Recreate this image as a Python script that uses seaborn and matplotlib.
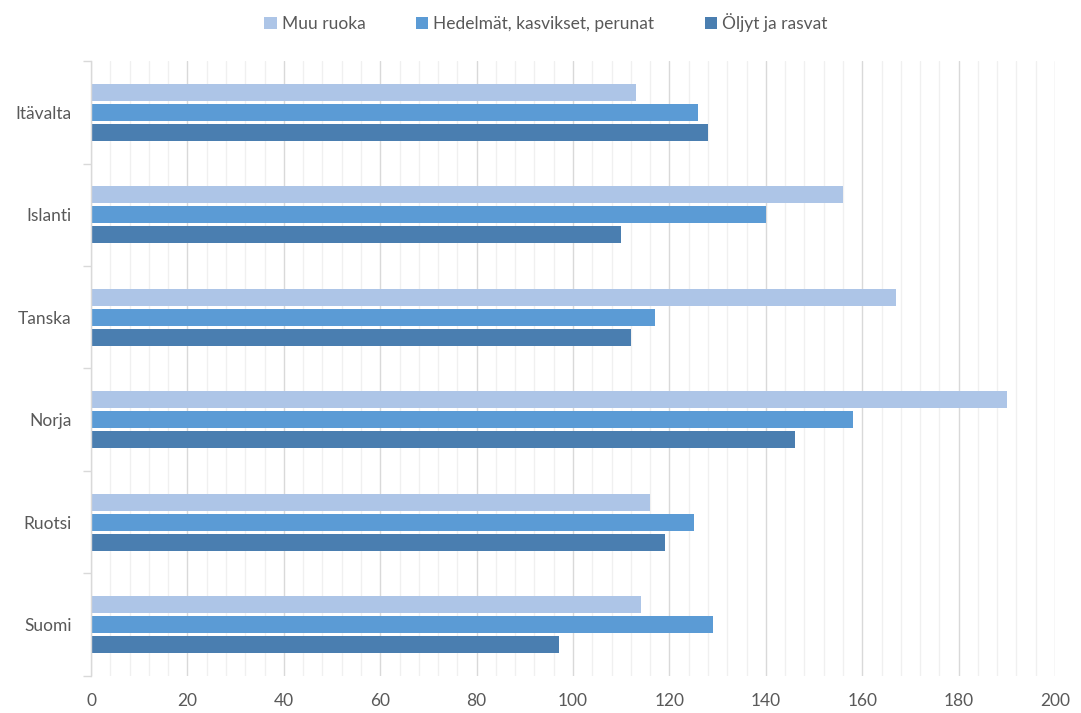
import numpy as np
import pandas as pd
import seaborn as sns
import matplotlib.pyplot as plt
from matplotlib.ticker import MultipleLocator, FixedLocator

maat = ["Itävalta", "Islanti", "Tanska", "Norja", "Ruotsi", "Suomi"]
sarjat = ["Muu ruoka", "Hedelmät, kasvikset, perunat", "Öljyt ja rasvat"]
muu_ruoka = [113, 156, 167, 190, 116, 114]
hedelmat = [126, 140, 117, 158, 125, 129]
oljyt = [128, 110, 112, 146, 119, 97]
varit = ["#ADC5E7", "#5B9BD5", "#4A7EB0"]

df = pd.DataFrame({
    "maa": maat * 3,
    "sarja": [sarjat[0]] * 6 + [sarjat[1]] * 6 + [sarjat[2]] * 6,
    "arvo": muu_ruoka + hedelmat + oljyt,
})

sns.set_style("white")
plt.rcParams["font.family"] = ["Lato", "DejaVu Sans"]

fig, ax = plt.subplots(figsize=(10.81, 7.13), dpi=100)
fig.subplots_adjust(left=0.0842, right=0.976, bottom=0.052, top=0.9144)

sns.barplot(data=df, x="arvo", y="maa", hue="sarja", order=maat, hue_order=sarjat,
            palette=varit, saturation=1, width=0.585, gap=0.16, orient="h", ax=ax,
            edgecolor="none", linewidth=0)

ax.set_xlim(0, 200)
ax.set_ylim(5.5, -0.5)
ax.xaxis.set_major_locator(MultipleLocator(20))
ax.xaxis.set_minor_locator(MultipleLocator(4))
ax.grid(which="major", axis="x", color="#D9D9D9", lw=1.0)
ax.grid(which="minor", axis="x", color="#F0F0F0", lw=1.0)
ax.set_axisbelow(True)

# pienet tikit kategorioiden väliin
ax.yaxis.set_minor_locator(FixedLocator(np.arange(-0.5, 6, 1)))
ax.tick_params(axis="y", which="major", length=0, pad=14, labelsize=12.5, labelcolor="#595959")
ax.tick_params(axis="y", which="minor", left=True, length=6, color="#D9D9D9", width=1)
ax.tick_params(axis="x", which="both", length=0, pad=12, labelsize=12.5, labelcolor="#595959")

for s in ["top", "right", "bottom"]:
    ax.spines[s].set_visible(False)
ax.spines["left"].set_color("#D9D9D9")
ax.spines["left"].set_linewidth(1)

ax.set_xlabel("")
ax.set_ylabel("")

handles, labels = ax.get_legend_handles_labels()
ax.legend_.remove()
fig.legend(handles, labels, loc="upper center", bbox_to_anchor=(0.505, 1.004), ncol=3,
           frameon=False, fontsize=12.5, labelcolor="#595959",
           handlelength=0.7, handleheight=0.7, handletextpad=0.3, columnspacing=2.9)

fig.savefig("out.png", dpi=100)
